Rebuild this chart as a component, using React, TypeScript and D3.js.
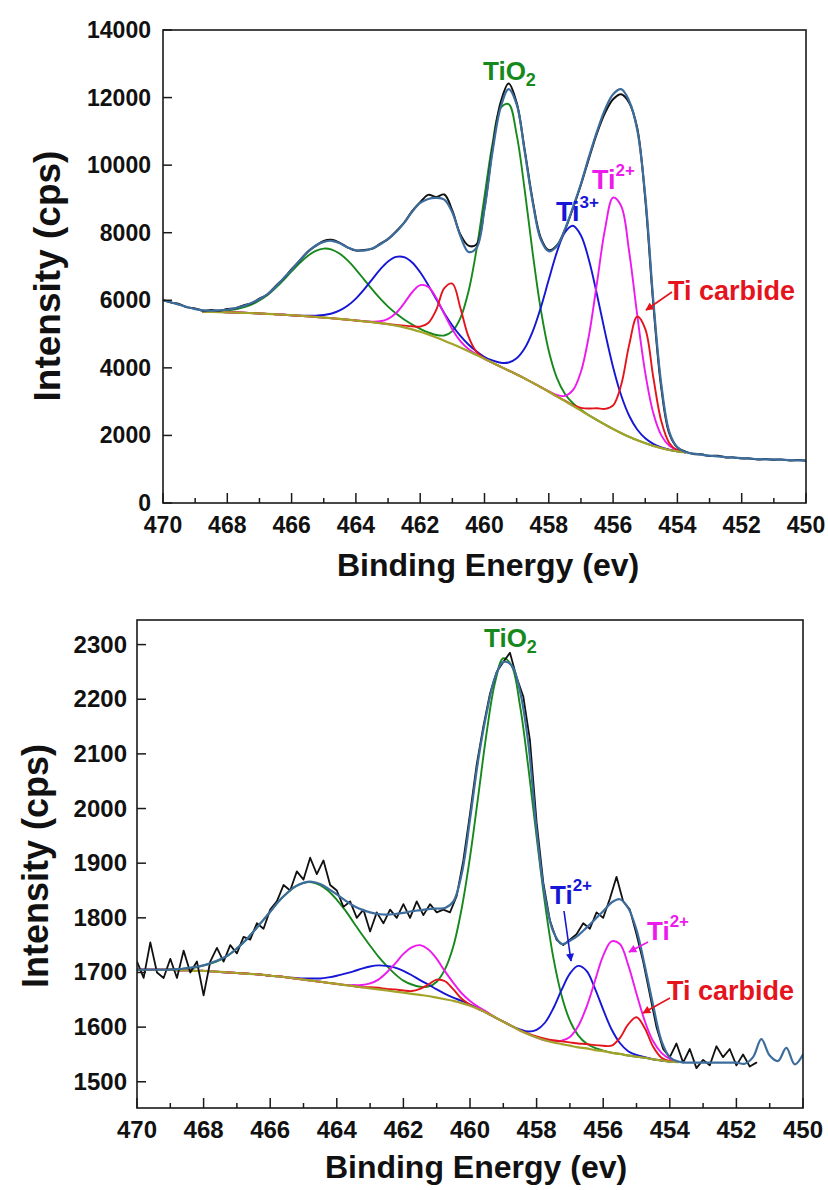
import React from 'react';
import * as d3 from 'd3';

// ---------- shared energy grids (eV) ----------
const dataGridE = [
  470, 469.75, 469.5, 469.25, 469, 468.75, 468.5, 468.25, 468, 467.75,
  467.5, 467.25, 467, 466.75, 466.5, 466.25, 466, 465.75, 465.5, 465.25,
  465, 464.75, 464.5, 464.25, 464, 463.75, 463.5, 463.25, 463, 462.75,
  462.5, 462.25, 462, 461.75, 461.5, 461.25, 461, 460.75, 460.5, 460.25,
  460, 459.75, 459.5, 459.25, 459, 458.75, 458.5, 458.25, 458, 457.75,
  457.5, 457.25, 457, 456.75, 456.5, 456.25, 456, 455.75, 455.5, 455.25,
  455, 454.75, 454.5, 454.25, 454, 453.75, 453.5, 453.25, 453, 452.75,
  452.5, 452.25, 452, 451.75, 451.5, 451.25, 451, 450.75, 450.5, 450.25, 450,
];

const topGridE = [
  468.75, 468.5, 468.25, 468, 467.75, 467.5, 467.25, 467, 466.75, 466.5,
  466.25, 466, 465.75, 465.5, 465.25, 465, 464.75, 464.5, 464.25, 464,
  463.75, 463.5, 463.25, 463, 462.75, 462.5, 462.25, 462, 461.75, 461.5,
  461.25, 461, 460.75, 460.5, 460.25, 460, 459.75, 459.5, 459.25, 459,
  458.75, 458.5, 458.25, 458, 457.75, 457.5, 457.25, 457, 456.75, 456.5,
  456.25, 456, 455.75, 455.5, 455.25, 455, 454.75, 454.5, 454.25, 454, 453.75,
];

const bottomGridE = [
  470, 469.75, 469.5, 469.25, 469,
  468.75, 468.5, 468.25, 468, 467.75, 467.5, 467.25, 467, 466.75, 466.5,
  466.25, 466, 465.75, 465.5, 465.25, 465, 464.75, 464.5, 464.25, 464,
  463.75, 463.5, 463.25, 463, 462.75, 462.5, 462.25, 462, 461.75, 461.5,
  461.25, 461, 460.75, 460.5, 460.25, 460, 459.75, 459.5, 459.25, 459,
  458.75, 458.5, 458.25, 458, 457.75, 457.5, 457.25, 457, 456.75, 456.5,
  456.25, 456, 455.75, 455.5, 455.25, 455, 454.75, 454.5, 454.25, 454, 453.75,
];

const xTicks = [470, 468, 466, 464, 462, 460, 458, 456, 454, 452, 450];
const xMinorTicks = [469, 467, 465, 463, 461, 459, 457, 455, 453, 451];
const topYTicks = [0, 2000, 4000, 6000, 8000, 10000, 12000, 14000];
const bottomYTicks = [1500, 1600, 1700, 1800, 1900, 2000, 2100, 2200, 2300];

// ---------- top panel (cps) ----------
const topBackground = [
  5660, 5655, 5650, 5645, 5638, 5630, 5620, 5610, 5598, 5585,
  5572, 5558, 5542, 5525, 5507, 5488, 5468, 5447, 5425, 5402,
  5378, 5352, 5322, 5290, 5250, 5200, 5140, 5070, 4990, 4900,
  4805, 4705, 4600, 4490, 4380, 4265, 4150, 4035, 3920, 3805,
  3685, 3560, 3430, 3295, 3155, 3015, 2875, 2735, 2595, 2455,
  2320, 2190, 2070, 1960, 1860, 1770, 1690, 1625, 1570, 1528, 1500,
];
const topTiO2 = [
  5668, 5670, 5680, 5699, 5733, 5789, 5874, 5997, 6160, 6364,
  6601, 6855, 7102, 7314, 7465, 7530, 7501, 7376, 7172, 6911,
  6621, 6329, 6055, 5813, 5607, 5433, 5284, 5155, 5051, 4973,
  4959, 5087, 5470, 6250, 7493, 9075, 10644, 11692, 11808, 10903,
  9268, 7391, 5730, 4500, 3706, 3236, 2952, 2759, 2595, 2455,
  2320, 2190, 2070, 1960, 1860, 1770, 1690, 1625, 1570, 1528, 1500,
];
const topTi3 = [
  5660, 5655, 5650, 5645, 5638, 5630, 5620, 5610, 5598, 5585,
  5572, 5558, 5542, 5542, 5544, 5563, 5610, 5700, 5845, 6051,
  6315, 6614, 6907, 7149, 7284, 7277, 7119, 6829, 6449, 6029,
  5620, 5255, 4945, 4693, 4491, 4322, 4219, 4151, 4159, 4285,
  4580, 5081, 5783, 6613, 7419, 8009, 8205, 7919, 7188, 6164,
  5049, 4020, 3189, 2583, 2176, 1916, 1752, 1649, 1580, 1528, 1500,
];
const topTi2 = [
  5660, 5655, 5650, 5645, 5638, 5630, 5620, 5610, 5598, 5585,
  5572, 5558, 5542, 5525, 5507, 5488, 5468, 5447, 5425, 5402,
  5380, 5368, 5378, 5451, 5625, 5911, 6238, 6448, 6397, 6068,
  5594, 5138, 4793, 4560, 4401, 4270, 4150, 4035, 3920, 3805,
  3685, 3560, 3430, 3305, 3198, 3169, 3338, 3885, 4969, 6526,
  8114, 9038, 8791, 7437, 5569, 3855, 2663, 2002, 1692, 1561, 1508,
];
const topCarbide = [
  5660, 5655, 5650, 5645, 5638, 5630, 5620, 5610, 5598, 5585,
  5572, 5558, 5542, 5525, 5507, 5488, 5468, 5447, 5425, 5402,
  5378, 5354, 5325, 5300, 5270, 5250, 5230, 5220, 5327, 5719,
  6358, 6495, 5771, 4931, 4474, 4276, 4150, 4035, 3920, 3805,
  3685, 3560, 3430, 3295, 3155, 3030, 2895, 2815, 2795, 2805,
  2786, 2890, 3490, 4680, 5518, 5155, 3721, 2416, 1770, 1561, 1500,
];
const topEnvelope = [
  6000, 5940, 5870, 5800, 5740, 5700, 5690, 5700, 5720, 5770,
  5830, 5920, 6030, 6180, 6400, 6650, 6900, 7180, 7420, 7620,
  7730, 7760, 7690, 7560, 7480, 7470, 7530, 7650, 7820, 8020,
  8300, 8620, 8880, 9000, 9030, 8980, 8600, 7900, 7430, 7550,
  8700, 10400, 11700, 12250, 11800, 10400, 8900, 7800, 7450, 7600,
  8100, 8750, 9450, 10250, 11000, 11650, 12100, 12250, 11900, 11050,
  9100, 6000, 3500, 2100, 1650, 1510, 1460, 1430, 1400, 1380,
  1360, 1345, 1330, 1315, 1300, 1290, 1290, 1280, 1270, 1260, 1260,
];
const topRaw = [
  6010, 5930, 5890, 5790, 5760, 5690, 5710, 5690, 5740, 5760,
  5850, 5910, 6050, 6170, 6420, 6640, 6920, 7170, 7440, 7610,
  7760, 7790, 7700, 7560, 7470, 7490, 7520, 7670, 7810, 8040,
  8290, 8640, 8900, 9120, 9060, 9130, 8650, 7950, 7620, 7650,
  8750, 10500, 11850, 12420, 11850, 10450, 8950, 7850, 7480, 7620,
  8080, 8720, 9420, 10200, 10950, 11550, 11950, 12100, 11850, 11100,
  9000, 5900, 3400, 2050, 1640, 1520, 1450, 1440, 1390, 1400,
  1350, 1350, 1320, 1320, 1290, 1300, 1280, 1290, 1260, 1270, 1250,
];

// ---------- bottom panel (cps) ----------
const bottomBackground = [
  1705, 1705, 1705, 1705, 1705,
  1704, 1704, 1703, 1703, 1702, 1701, 1700, 1699, 1698, 1697,
  1696, 1694, 1693, 1691, 1689, 1687, 1685, 1683, 1681, 1679,
  1677, 1675, 1673, 1671, 1669, 1667, 1665, 1663, 1661, 1659,
  1657, 1654, 1651, 1648, 1644, 1639, 1633, 1626, 1618, 1610,
  1602, 1594, 1587, 1581, 1576, 1572, 1569, 1566, 1563, 1561,
  1558, 1556, 1553, 1551, 1548, 1546, 1544, 1541, 1539, 1537, 1536,
];
const bottomTiO2 = [
  1705, 1705, 1705, 1705, 1706,
  1706, 1708, 1709, 1713, 1717, 1723, 1732, 1744, 1758, 1775,
  1793, 1811, 1830, 1845, 1857, 1864, 1865, 1860, 1849, 1833,
  1814, 1792, 1770, 1749, 1729, 1712, 1697, 1685, 1678, 1674,
  1674, 1683, 1706, 1748, 1817, 1911, 2024, 2139, 2230, 2275,
  2261, 2189, 2076, 1948, 1827, 1728, 1658, 1612, 1585, 1570,
  1562, 1557, 1553, 1551, 1548, 1546, 1544, 1541, 1539, 1537, 1536,
];
const bottomTi3 = [
  1705, 1705, 1705, 1705, 1705,
  1704, 1704, 1703, 1703, 1702, 1701, 1700, 1699, 1698, 1697,
  1696, 1694, 1693, 1691, 1690, 1689, 1689, 1689, 1691, 1694,
  1698, 1702, 1707, 1711, 1713, 1712, 1709, 1703, 1695, 1686,
  1678, 1669, 1661, 1654, 1648, 1641, 1634, 1626, 1618, 1610,
  1602, 1596, 1592, 1595, 1608, 1634, 1668, 1698, 1712, 1703,
  1671, 1632, 1596, 1571, 1556, 1549, 1545, 1541, 1539, 1537, 1536,
];
const bottomTi2 = [
  1705, 1705, 1705, 1705, 1705,
  1704, 1704, 1703, 1703, 1702, 1701, 1700, 1699, 1698, 1697,
  1696, 1694, 1693, 1691, 1689, 1687, 1685, 1683, 1681, 1679,
  1677, 1677, 1677, 1680, 1687, 1700, 1716, 1734, 1746, 1750,
  1742, 1725, 1702, 1681, 1662, 1648, 1637, 1628, 1618, 1610,
  1602, 1594, 1587, 1581, 1576, 1574, 1575, 1582, 1602, 1637,
  1684, 1731, 1757, 1752, 1714, 1661, 1611, 1574, 1553, 1542, 1537,
];
const bottomCarbide = [
  1705, 1705, 1705, 1705, 1705,
  1704, 1704, 1703, 1703, 1702, 1701, 1700, 1699, 1698, 1697,
  1696, 1694, 1693, 1691, 1689, 1687, 1685, 1683, 1681, 1679,
  1677, 1675, 1673, 1673, 1672, 1670, 1669, 1667, 1666, 1670,
  1678, 1687, 1684, 1669, 1652, 1641, 1633, 1626, 1618, 1610,
  1602, 1594, 1588, 1583, 1579, 1576, 1574, 1572, 1570, 1569,
  1567, 1566, 1566, 1580, 1605, 1618, 1598, 1564, 1544, 1538, 1536,
];
const bottomEnvelope = [
  1705, 1705, 1705, 1705, 1705, 1706, 1708, 1710, 1713, 1718,
  1724, 1732, 1744, 1758, 1775, 1793, 1811, 1830, 1845, 1857,
  1864, 1866, 1862, 1853, 1843, 1832, 1822, 1815, 1810, 1807,
  1806, 1807, 1809, 1812, 1814, 1816, 1817, 1818, 1830, 1880,
  1980, 2090, 2175, 2240, 2268, 2262, 2215, 2120, 1960, 1840,
  1775, 1752, 1758, 1768, 1782, 1797, 1812, 1828, 1834, 1818,
  1778, 1712, 1640, 1575, 1545, 1537, 1535, 1535, 1535, 1535,
  1535, 1535, 1535, 1533, 1545, 1578, 1548, 1538, 1562, 1532, 1550,
];
const bottomRawE = [
  470, 469.8, 469.6, 469.4, 469.2, 469, 468.8, 468.6, 468.4, 468.2,
  468, 467.8, 467.6, 467.4, 467.2, 467, 466.8, 466.6, 466.4, 466.2,
  466, 465.8, 465.6, 465.4, 465.2, 465, 464.8, 464.6, 464.4, 464.2,
  464, 463.8, 463.6, 463.4, 463.2, 463, 462.8, 462.6, 462.4, 462.2,
  462, 461.8, 461.6, 461.4, 461.2, 461, 460.8, 460.6, 460.4, 460.2,
  460, 459.8, 459.6, 459.4, 459.2, 459, 458.8, 458.6, 458.4, 458.2,
  458, 457.8, 457.6, 457.4, 457.2, 457, 456.8, 456.6, 456.4, 456.2,
  456, 455.8, 455.6, 455.4, 455.2, 455, 454.8, 454.6, 454.4, 454.2,
  454, 453.8, 453.6, 453.4, 453.2, 453, 452.8, 452.6, 452.4, 452.2,
  452, 451.8, 451.6, 451.4,
];
const bottomRaw = [
  1720, 1690, 1755, 1700, 1690, 1725, 1690, 1740, 1700, 1720,
  1658, 1720, 1745, 1720, 1750, 1735, 1765, 1760, 1790, 1780,
  1815, 1830, 1860, 1850, 1885, 1870, 1910, 1880, 1905, 1860,
  1850, 1820, 1830, 1800, 1815, 1775, 1810, 1790, 1815, 1800,
  1825, 1800, 1830, 1805, 1825, 1810, 1815, 1810, 1840, 1905,
  1990, 2080, 2150, 2210, 2250, 2268, 2285, 2240, 2205, 2125,
  1975, 1865, 1795, 1760, 1750, 1760, 1770, 1790, 1780, 1810,
  1800, 1835, 1875, 1830, 1815, 1770, 1720, 1660, 1600, 1560,
  1545, 1570, 1535, 1560, 1525, 1540, 1530, 1565, 1545, 1560,
  1530, 1550, 1528, 1535,
];

const COLORS = {
  tio2: '#17891c',
  ti3: '#1616d6',
  ti2: '#ec1aec',
  carbide: '#e5141c',
  bg: '#a3a32a',
  env: '#3d6d9c',
  raw: '#111111',
};

const FONT = "'Liberation Sans', Arial, Helvetica, sans-serif";

type Series = { e: number[]; v: number[]; color: string; width: number; smooth: boolean };

type PanelProps = {
  id: string;
  left: number;
  right: number;
  top: number;
  bottom: number;
  yDomain: [number, number];
  yTicks: number[];
  tickFont: number;
  yLabelGap: number;
  xLabelDy: number;
  yTitle: { x: number; y: number; size: number };
  xTitle: { x: number; y: number; size: number };
  series: Series[];
  children?: React.ReactNode;
};

function Panel(p: PanelProps) {
  const x = d3.scaleLinear().domain([470, 450]).range([p.left, p.right]);
  const y = d3.scaleLinear().domain(p.yDomain).range([p.bottom, p.top]);
  const smooth = d3.curveCatmullRom.alpha(0.5);
  const mk = (s: Series) =>
    d3
      .line<number>()
      .x((_, i) => x(s.e[i]))
      .y((d) => y(d))
      .curve(s.smooth ? smooth : d3.curveLinear)(s.v) || '';
  const clip = `clip-${p.id}`;
  return (
    <g>
      <defs>
        <clipPath id={clip}>
          <rect x={p.left} y={p.top} width={p.right - p.left} height={p.bottom - p.top} />
        </clipPath>
      </defs>
      <g clipPath={`url(#${clip})`} fill="none" strokeLinejoin="round" strokeLinecap="round">
        {p.series.map((s, i) => (
          <path key={i} d={mk(s)} stroke={s.color} strokeWidth={s.width} />
        ))}
      </g>
      <rect
        x={p.left}
        y={p.top}
        width={p.right - p.left}
        height={p.bottom - p.top}
        fill="none"
        stroke="#1a1a1a"
        strokeWidth={1.6}
      />
      {xTicks.map((t) => (
        <line key={'M' + t} x1={x(t)} x2={x(t)} y1={p.bottom} y2={p.bottom - 10} stroke="#1a1a1a" strokeWidth={1.5} />
      ))}
      {xMinorTicks.map((t) => (
        <line key={'m' + t} x1={x(t)} x2={x(t)} y1={p.bottom} y2={p.bottom - 5} stroke="#1a1a1a" strokeWidth={1.5} />
      ))}
      {p.yTicks.map((t) => (
        <line key={'y' + t} x1={p.left} x2={p.left + 9} y1={y(t)} y2={y(t)} stroke="#1a1a1a" strokeWidth={1.5} />
      ))}
      <g fontFamily={FONT} fontWeight="bold" fontSize={p.tickFont} fill="#111">
        {xTicks.map((t) => (
          <text key={'xl' + t} x={x(t)} y={p.bottom + p.xLabelDy} textAnchor="middle">
            {t}
          </text>
        ))}
        {p.yTicks.map((t) => (
          <text key={'yl' + t} x={p.left - p.yLabelGap} y={y(t) + 8} textAnchor="end">
            {t}
          </text>
        ))}
      </g>
      <text
        fontFamily={FONT}
        fontWeight="bold"
        fontSize={p.yTitle.size}
        fill="#111"
        textAnchor="middle"
        transform={`translate(${p.yTitle.x},${p.yTitle.y}) rotate(-90)`}
      >
        Intensity (cps)
      </text>
      <text
        fontFamily={FONT}
        fontWeight="bold"
        fontSize={p.xTitle.size}
        fill="#111"
        textAnchor="middle"
        x={p.xTitle.x}
        y={p.xTitle.y}
      >
        Binding Energy (ev)
      </text>
      {p.children}
    </g>
  );
}

function Arrow({ x1, y1, x2, y2, color, id }: { x1: number; y1: number; x2: number; y2: number; color: string; id: string }) {
  return <line x1={x1} y1={y1} x2={x2} y2={y2} stroke={color} strokeWidth={1.6} markerEnd={`url(#${id})`} />;
}

export default function App() {
  const topSeries: Series[] = [
    { e: topGridE, v: topTiO2, color: COLORS.tio2, width: 1.9, smooth: true },
    { e: topGridE, v: topTi3, color: COLORS.ti3, width: 1.9, smooth: true },
    { e: topGridE, v: topTi2, color: COLORS.ti2, width: 1.9, smooth: true },
    { e: topGridE, v: topCarbide, color: COLORS.carbide, width: 1.9, smooth: true },
    { e: topGridE, v: topBackground, color: COLORS.bg, width: 2.2, smooth: true },
    { e: dataGridE, v: topRaw, color: COLORS.raw, width: 2, smooth: true },
    { e: dataGridE, v: topEnvelope, color: COLORS.env, width: 2.2, smooth: true },
  ];
  const bottomSeries: Series[] = [
    { e: bottomGridE, v: bottomTiO2, color: COLORS.tio2, width: 1.9, smooth: true },
    { e: bottomGridE, v: bottomTi3, color: COLORS.ti3, width: 1.9, smooth: true },
    { e: bottomGridE, v: bottomTi2, color: COLORS.ti2, width: 1.9, smooth: true },
    { e: bottomGridE, v: bottomCarbide, color: COLORS.carbide, width: 1.9, smooth: true },
    { e: bottomGridE, v: bottomBackground, color: COLORS.bg, width: 2.2, smooth: true },
    { e: bottomRawE, v: bottomRaw, color: COLORS.raw, width: 1.8, smooth: false },
    { e: dataGridE, v: bottomEnvelope, color: COLORS.env, width: 2.2, smooth: true },
  ];
  const lbl = { fontFamily: FONT, fontWeight: 'bold' as const };
  return (
    <svg
      width={828}
      height={1190}
      viewBox="0 0 828 1190"
      style={{ position: 'absolute', left: 0, top: 0, background: '#fff' }}
    >
      <defs>
        {(['ti3', 'ti2', 'carbide'] as const).map((k) => (
          <marker
            key={k}
            id={`arr-${k}`}
            viewBox="0 0 10 10"
            refX={9}
            refY={5}
            markerWidth={9}
            markerHeight={8}
            markerUnits="userSpaceOnUse"
            orient="auto"
          >
            <path d="M0,0 L10,5 L0,10 z" fill={COLORS[k]} />
          </marker>
        ))}
      </defs>
      <rect x={0} y={0} width={828} height={1190} fill="#fff" />
      <Panel
        id="top"
        left={163}
        right={806}
        top={30}
        bottom={503}
        yDomain={[0, 14000]}
        yTicks={topYTicks}
        tickFont={23}
        yLabelGap={12}
        xLabelDy={30}
        yTitle={{ x: 60, y: 276, size: 37 }}
        xTitle={{ x: 488, y: 576, size: 32 }}
        series={topSeries}
      >
        <text {...lbl} x={483} y={80} fontSize={26} fill={COLORS.tio2}>
          TiO<tspan fontSize={18} dy={6}>2</tspan>
        </text>
        <text {...lbl} x={556} y={221} fontSize={27} fill={COLORS.ti3}>
          Ti<tspan fontSize={17} dy={-13}>3+</tspan>
        </text>
        <text {...lbl} x={592} y={189} fontSize={27} fill={COLORS.ti2}>
          Ti<tspan fontSize={17} dy={-13}>2+</tspan>
        </text>
        <text {...lbl} x={668} y={300} fontSize={27} fill={COLORS.carbide}>
          Ti carbide
        </text>
        <Arrow x1={672} y1={292} x2={646} y2={310} color={COLORS.carbide} id="arr-carbide" />
      </Panel>
      <Panel
        id="bottom"
        left={137}
        right={803}
        top={620}
        bottom={1108}
        yDomain={[1452, 2345]}
        yTicks={bottomYTicks}
        tickFont={24}
        yLabelGap={10}
        xLabelDy={30}
        yTitle={{ x: 48, y: 866, size: 36 }}
        xTitle={{ x: 476, y: 1178, size: 32 }}
        series={bottomSeries}
      >
        <text {...lbl} x={484} y={647} fontSize={26} fill={COLORS.tio2}>
          TiO<tspan fontSize={18} dy={6}>2</tspan>
        </text>
        <text {...lbl} x={550} y={904} fontSize={26} fill={COLORS.ti3}>
          Ti<tspan fontSize={17} dy={-13}>2+</tspan>
        </text>
        <Arrow x1={564} y1={911} x2={571} y2={961} color={COLORS.ti3} id="arr-ti3" />
        <text {...lbl} x={647} y={940} fontSize={26} fill={COLORS.ti2}>
          Ti<tspan fontSize={17} dy={-13}>2+</tspan>
        </text>
        <Arrow x1={648} y1={942} x2={629} y2={952} color={COLORS.ti2} id="arr-ti2" />
        <text {...lbl} x={667} y={1000} fontSize={27} fill={COLORS.carbide}>
          Ti carbide
        </text>
        <Arrow x1={670} y1={998} x2={643} y2={1013} color={COLORS.carbide} id="arr-carbide" />
      </Panel>
    </svg>
  );
}
